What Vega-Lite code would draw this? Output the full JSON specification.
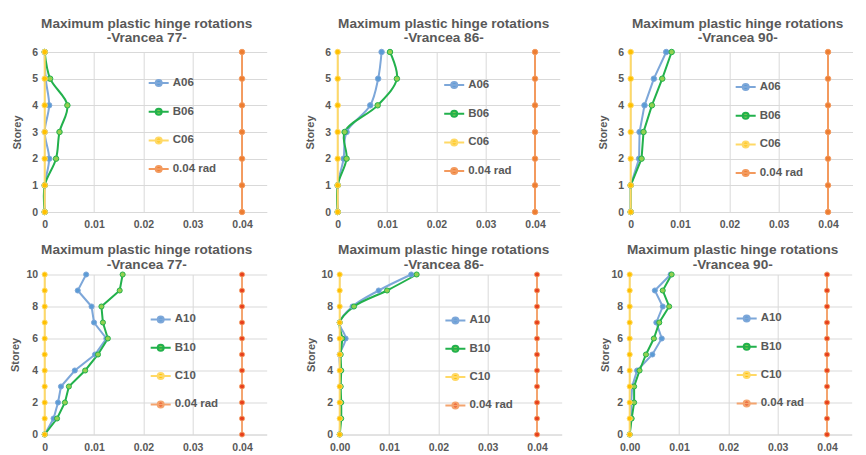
{
  "$schema": "https://vega.github.io/schema/vega-lite/v6.json",
  "padding": {"left": 9.7, "top": 17, "right": 0, "bottom": 0},
  "config": {
    "font": "Liberation Sans",
    "view": {"stroke": null},
    "axis": {"labelFontWeight": "bold", "labelColor": "#595959", "labelFontSize": 10.5, "titleFontSize": 11, "titleFontWeight": "bold", "titleColor": "#595959", "gridColor": "#D9D9D9", "ticks": false, "domain": false},
    "axisX": {"domain": true, "domainColor": "#D9D9D9", "labelPadding": 8, "labelFlush": false},
    "axisY": {"labelPadding": 7, "titleBaseline": "top"},
    "title": {"fontSize": 13.6, "fontWeight": "bold", "color": "#595959", "anchor": "middle", "offset": 2},
    "legend": {"labelFontSize": 11.5, "labelFontWeight": "bold", "labelColor": "#595959"}
  },
  "datasets": {
    "p1": [
      {"series":"A06","storey":0,"rotation":0},{"series":"A06","storey":1,"rotation":0},{"series":"A06","storey":2,"rotation":0.0009},{"series":"A06","storey":3,"rotation":0},{"series":"A06","storey":4,"rotation":0.0009},{"series":"A06","storey":5,"rotation":0.0002},{"series":"A06","storey":6,"rotation":0},
      {"series":"B06","storey":0,"rotation":0},{"series":"B06","storey":1,"rotation":0},{"series":"B06","storey":2,"rotation":0.0023},{"series":"B06","storey":3,"rotation":0.003},{"series":"B06","storey":4,"rotation":0.0046},{"series":"B06","storey":5,"rotation":0.0011},{"series":"B06","storey":6,"rotation":0},
      {"series":"C06","storey":0,"rotation":0},{"series":"C06","storey":1,"rotation":0},{"series":"C06","storey":2,"rotation":0},{"series":"C06","storey":3,"rotation":0},{"series":"C06","storey":4,"rotation":0},{"series":"C06","storey":5,"rotation":0},{"series":"C06","storey":6,"rotation":0},
      {"series":"0.04 rad","storey":0,"rotation":0.04},{"series":"0.04 rad","storey":1,"rotation":0.04},{"series":"0.04 rad","storey":2,"rotation":0.04},{"series":"0.04 rad","storey":3,"rotation":0.04},{"series":"0.04 rad","storey":4,"rotation":0.04},{"series":"0.04 rad","storey":5,"rotation":0.04},{"series":"0.04 rad","storey":6,"rotation":0.04}
    ],
    "p2": [
      {"series":"A06","storey":0,"rotation":0},{"series":"A06","storey":1,"rotation":0},{"series":"A06","storey":2,"rotation":0.0012},{"series":"A06","storey":3,"rotation":0.0018},{"series":"A06","storey":4,"rotation":0.0066},{"series":"A06","storey":5,"rotation":0.0082},{"series":"A06","storey":6,"rotation":0.0089},
      {"series":"B06","storey":0,"rotation":0},{"series":"B06","storey":1,"rotation":0},{"series":"B06","storey":2,"rotation":0.0018},{"series":"B06","storey":3,"rotation":0.0014},{"series":"B06","storey":4,"rotation":0.0081},{"series":"B06","storey":5,"rotation":0.012},{"series":"B06","storey":6,"rotation":0.0106},
      {"series":"C06","storey":0,"rotation":0},{"series":"C06","storey":1,"rotation":0},{"series":"C06","storey":2,"rotation":0},{"series":"C06","storey":3,"rotation":0},{"series":"C06","storey":4,"rotation":0},{"series":"C06","storey":5,"rotation":0},{"series":"C06","storey":6,"rotation":0},
      {"series":"0.04 rad","storey":0,"rotation":0.04},{"series":"0.04 rad","storey":1,"rotation":0.04},{"series":"0.04 rad","storey":2,"rotation":0.04},{"series":"0.04 rad","storey":3,"rotation":0.04},{"series":"0.04 rad","storey":4,"rotation":0.04},{"series":"0.04 rad","storey":5,"rotation":0.04},{"series":"0.04 rad","storey":6,"rotation":0.04}
    ],
    "p3": [
      {"series":"A06","storey":0,"rotation":0},{"series":"A06","storey":1,"rotation":0},{"series":"A06","storey":2,"rotation":0.0017},{"series":"A06","storey":3,"rotation":0.0018},{"series":"A06","storey":4,"rotation":0.0028},{"series":"A06","storey":5,"rotation":0.0047},{"series":"A06","storey":6,"rotation":0.0072},
      {"series":"B06","storey":0,"rotation":0},{"series":"B06","storey":1,"rotation":0},{"series":"B06","storey":2,"rotation":0.0022},{"series":"B06","storey":3,"rotation":0.0026},{"series":"B06","storey":4,"rotation":0.0043},{"series":"B06","storey":5,"rotation":0.0064},{"series":"B06","storey":6,"rotation":0.0083},
      {"series":"C06","storey":0,"rotation":0},{"series":"C06","storey":1,"rotation":0},{"series":"C06","storey":2,"rotation":0},{"series":"C06","storey":3,"rotation":0},{"series":"C06","storey":4,"rotation":0},{"series":"C06","storey":5,"rotation":0},{"series":"C06","storey":6,"rotation":0},
      {"series":"0.04 rad","storey":0,"rotation":0.04},{"series":"0.04 rad","storey":1,"rotation":0.04},{"series":"0.04 rad","storey":2,"rotation":0.04},{"series":"0.04 rad","storey":3,"rotation":0.04},{"series":"0.04 rad","storey":4,"rotation":0.04},{"series":"0.04 rad","storey":5,"rotation":0.04},{"series":"0.04 rad","storey":6,"rotation":0.04}
    ],
    "p4": [
      {"series":"A10","storey":0,"rotation":0},{"series":"A10","storey":1,"rotation":0.0018},{"series":"A10","storey":2,"rotation":0.0027},{"series":"A10","storey":3,"rotation":0.0033},{"series":"A10","storey":4,"rotation":0.0061},{"series":"A10","storey":5,"rotation":0.0102},{"series":"A10","storey":6,"rotation":0.0125},{"series":"A10","storey":7,"rotation":0.01},{"series":"A10","storey":8,"rotation":0.0095},{"series":"A10","storey":9,"rotation":0.0067},{"series":"A10","storey":10,"rotation":0.0084},
      {"series":"B10","storey":0,"rotation":0},{"series":"B10","storey":1,"rotation":0.0025},{"series":"B10","storey":2,"rotation":0.0041},{"series":"B10","storey":3,"rotation":0.0049},{"series":"B10","storey":4,"rotation":0.0082},{"series":"B10","storey":5,"rotation":0.0108},{"series":"B10","storey":6,"rotation":0.0128},{"series":"B10","storey":7,"rotation":0.0118},{"series":"B10","storey":8,"rotation":0.0115},{"series":"B10","storey":9,"rotation":0.0152},{"series":"B10","storey":10,"rotation":0.0158},
      {"series":"C10","storey":0,"rotation":0},{"series":"C10","storey":1,"rotation":0},{"series":"C10","storey":2,"rotation":0},{"series":"C10","storey":3,"rotation":0},{"series":"C10","storey":4,"rotation":0},{"series":"C10","storey":5,"rotation":0},{"series":"C10","storey":6,"rotation":0},{"series":"C10","storey":7,"rotation":0},{"series":"C10","storey":8,"rotation":0},{"series":"C10","storey":9,"rotation":0},{"series":"C10","storey":10,"rotation":0},
      {"series":"0.04 rad","storey":0,"rotation":0.04},{"series":"0.04 rad","storey":1,"rotation":0.04},{"series":"0.04 rad","storey":2,"rotation":0.04},{"series":"0.04 rad","storey":3,"rotation":0.04},{"series":"0.04 rad","storey":4,"rotation":0.04},{"series":"0.04 rad","storey":5,"rotation":0.04},{"series":"0.04 rad","storey":6,"rotation":0.04},{"series":"0.04 rad","storey":7,"rotation":0.04},{"series":"0.04 rad","storey":8,"rotation":0.04},{"series":"0.04 rad","storey":9,"rotation":0.04},{"series":"0.04 rad","storey":10,"rotation":0.04}
    ],
    "p5": [
      {"series":"A10","storey":0,"rotation":0},{"series":"A10","storey":1,"rotation":0.0001},{"series":"A10","storey":2,"rotation":0.0001},{"series":"A10","storey":3,"rotation":0.0001},{"series":"A10","storey":4,"rotation":0.0001},{"series":"A10","storey":5,"rotation":0},{"series":"A10","storey":6,"rotation":0.0012},{"series":"A10","storey":7,"rotation":0},{"series":"A10","storey":8,"rotation":0.0026},{"series":"A10","storey":9,"rotation":0.0079},{"series":"A10","storey":10,"rotation":0.0145},
      {"series":"B10","storey":0,"rotation":0},{"series":"B10","storey":1,"rotation":0.0003},{"series":"B10","storey":2,"rotation":0.0003},{"series":"B10","storey":3,"rotation":0.0002},{"series":"B10","storey":4,"rotation":0.0003},{"series":"B10","storey":5,"rotation":0.0002},{"series":"B10","storey":6,"rotation":0.0005},{"series":"B10","storey":7,"rotation":0},{"series":"B10","storey":8,"rotation":0.0029},{"series":"B10","storey":9,"rotation":0.0096},{"series":"B10","storey":10,"rotation":0.0156},
      {"series":"C10","storey":0,"rotation":0},{"series":"C10","storey":1,"rotation":0},{"series":"C10","storey":2,"rotation":0},{"series":"C10","storey":3,"rotation":0},{"series":"C10","storey":4,"rotation":0},{"series":"C10","storey":5,"rotation":0},{"series":"C10","storey":6,"rotation":0},{"series":"C10","storey":7,"rotation":0},{"series":"C10","storey":8,"rotation":0},{"series":"C10","storey":9,"rotation":0},{"series":"C10","storey":10,"rotation":0},
      {"series":"0.04 rad","storey":0,"rotation":0.04},{"series":"0.04 rad","storey":1,"rotation":0.04},{"series":"0.04 rad","storey":2,"rotation":0.04},{"series":"0.04 rad","storey":3,"rotation":0.04},{"series":"0.04 rad","storey":4,"rotation":0.04},{"series":"0.04 rad","storey":5,"rotation":0.04},{"series":"0.04 rad","storey":6,"rotation":0.04},{"series":"0.04 rad","storey":7,"rotation":0.04},{"series":"0.04 rad","storey":8,"rotation":0.04},{"series":"0.04 rad","storey":9,"rotation":0.04},{"series":"0.04 rad","storey":10,"rotation":0.04}
    ],
    "p6": [
      {"series":"A10","storey":0,"rotation":0},{"series":"A10","storey":1,"rotation":0.0003},{"series":"A10","storey":2,"rotation":0.0003},{"series":"A10","storey":3,"rotation":0.0005},{"series":"A10","storey":4,"rotation":0.0015},{"series":"A10","storey":5,"rotation":0.0046},{"series":"A10","storey":6,"rotation":0.0065},{"series":"A10","storey":7,"rotation":0.0054},{"series":"A10","storey":8,"rotation":0.0067},{"series":"A10","storey":9,"rotation":0.0051},{"series":"A10","storey":10,"rotation":0.0083},
      {"series":"B10","storey":0,"rotation":0},{"series":"B10","storey":1,"rotation":0.0004},{"series":"B10","storey":2,"rotation":0.0009},{"series":"B10","storey":3,"rotation":0.0009},{"series":"B10","storey":4,"rotation":0.002},{"series":"B10","storey":5,"rotation":0.0033},{"series":"B10","storey":6,"rotation":0.0049},{"series":"B10","storey":7,"rotation":0.006},{"series":"B10","storey":8,"rotation":0.008},{"series":"B10","storey":9,"rotation":0.0067},{"series":"B10","storey":10,"rotation":0.0085},
      {"series":"C10","storey":0,"rotation":0},{"series":"C10","storey":1,"rotation":0},{"series":"C10","storey":2,"rotation":0},{"series":"C10","storey":3,"rotation":0},{"series":"C10","storey":4,"rotation":0},{"series":"C10","storey":5,"rotation":0},{"series":"C10","storey":6,"rotation":0},{"series":"C10","storey":7,"rotation":0},{"series":"C10","storey":8,"rotation":0},{"series":"C10","storey":9,"rotation":0},{"series":"C10","storey":10,"rotation":0},
      {"series":"0.04 rad","storey":0,"rotation":0.04},{"series":"0.04 rad","storey":1,"rotation":0.04},{"series":"0.04 rad","storey":2,"rotation":0.04},{"series":"0.04 rad","storey":3,"rotation":0.04},{"series":"0.04 rad","storey":4,"rotation":0.04},{"series":"0.04 rad","storey":5,"rotation":0.04},{"series":"0.04 rad","storey":6,"rotation":0.04},{"series":"0.04 rad","storey":7,"rotation":0.04},{"series":"0.04 rad","storey":8,"rotation":0.04},{"series":"0.04 rad","storey":9,"rotation":0.04},{"series":"0.04 rad","storey":10,"rotation":0.04}
    ]
  },
  "resolve": {"scale": {"x": "independent", "y": "independent", "stroke": "independent", "fill": "independent"}, "legend": {"stroke": "independent", "fill": "independent"}},
  "columns": 3,
  "align": "none",
  "spacing": {"row": 11.5, "column": 38},
  "concat": [
    {
      "width": 222, "height": 160, "data": {"name": "p1"},
      "title": {"text": ["Maximum plastic hinge rotations", "-Vrancea 77-"], "dx": -9, "lineHeight": 14.3},
      "encoding": {
        "x": {"field": "rotation", "type": "quantitative", "scale": {"domain": [0, 0.045], "nice": false, "zero": false}, "axis": {"values": [0, 0.01, 0.02, 0.03, 0.04], "labelExpr": "datum.value == 0 ? '0' : format(datum.value, '.2f')", "title": null}},
        "y": {"field": "storey", "type": "quantitative", "scale": {"domain": [0, 6], "nice": false}, "axis": {"values": [0, 1, 2, 3, 4, 5, 6], "title": "Storey", "titleX": -33}},
        "order": {"field": "storey", "type": "quantitative"}
      },
      "layer": [
        {"mark": {"type": "line", "strokeWidth": 2, "interpolate": "catmull-rom"},
         "encoding": {"stroke": {"field": "series", "type": "nominal", "scale": {"domain": ["A06", "B06", "C06", "0.04 rad"], "range": ["#7DA7D9", "#22B14C", "#FFD966", "#F39A5E"]}, "legend": {"title": null, "orient": "none", "legendX": 103, "legendY": 20, "symbolType": "M-1,0H1M-0.3,0A0.3,0.3,0,1,1,0.3,0A0.3,0.3,0,1,1,-0.3,0Z", "symbolSize": 400, "symbolStrokeWidth": 2, "rowPadding": 10.7, "labelOffset": 3}}}},
        {"mark": {"type": "point", "filled": true, "size": 30, "strokeWidth": 1, "opacity": 1},
         "encoding": {"fill": {"field": "series", "type": "nominal", "scale": {"domain": ["A06", "B06", "C06", "0.04 rad"], "range": ["#5B9BD5", "#92D050", "#FFC000", "#ED7D31"]}, "legend": {"title": null, "orient": "none", "legendX": 103, "legendY": 20, "symbolType": "M-1,0H1M-0.3,0A0.3,0.3,0,1,1,0.3,0A0.3,0.3,0,1,1,-0.3,0Z", "symbolSize": 400, "symbolStrokeWidth": 2, "rowPadding": 10.7, "labelOffset": 3}},
                      "stroke": {"field": "series", "type": "nominal"}}}
      ]
    },
    {
      "width": 222, "height": 160, "data": {"name": "p2"},
      "title": {"text": ["Maximum plastic hinge rotations", "-Vrancea 86-"], "dx": -5, "lineHeight": 14.3},
      "encoding": {
        "x": {"field": "rotation", "type": "quantitative", "scale": {"domain": [0, 0.045], "nice": false, "zero": false}, "axis": {"values": [0, 0.01, 0.02, 0.03, 0.04], "labelExpr": "datum.value == 0 ? '0' : format(datum.value, '.2f')", "title": null}},
        "y": {"field": "storey", "type": "quantitative", "scale": {"domain": [0, 6], "nice": false}, "axis": {"values": [0, 1, 2, 3, 4, 5, 6], "title": "Storey", "titleX": -33}},
        "order": {"field": "storey", "type": "quantitative"}
      },
      "layer": [
        {"mark": {"type": "line", "strokeWidth": 2, "interpolate": "catmull-rom"},
         "encoding": {"stroke": {"field": "series", "type": "nominal", "scale": {"domain": ["A06", "B06", "C06", "0.04 rad"], "range": ["#7DA7D9", "#22B14C", "#FFD966", "#F39A5E"]}, "legend": {"title": null, "orient": "none", "legendX": 105.5, "legendY": 22, "symbolType": "M-1,0H1M-0.3,0A0.3,0.3,0,1,1,0.3,0A0.3,0.3,0,1,1,-0.3,0Z", "symbolSize": 400, "symbolStrokeWidth": 2, "rowPadding": 10.7, "labelOffset": 3}}}},
        {"mark": {"type": "point", "filled": true, "size": 30, "strokeWidth": 1, "opacity": 1},
         "encoding": {"fill": {"field": "series", "type": "nominal", "scale": {"domain": ["A06", "B06", "C06", "0.04 rad"], "range": ["#5B9BD5", "#92D050", "#FFC000", "#ED7D31"]}, "legend": {"title": null, "orient": "none", "legendX": 105.5, "legendY": 22, "symbolType": "M-1,0H1M-0.3,0A0.3,0.3,0,1,1,0.3,0A0.3,0.3,0,1,1,-0.3,0Z", "symbolSize": 400, "symbolStrokeWidth": 2, "rowPadding": 10.7, "labelOffset": 3}},
                      "stroke": {"field": "series", "type": "nominal"}}}
      ]
    },
    {
      "width": 222, "height": 160, "data": {"name": "p3"},
      "title": {"text": ["Maximum plastic hinge rotations", "-Vrancea 90-"], "dx": -4, "lineHeight": 14.3},
      "encoding": {
        "x": {"field": "rotation", "type": "quantitative", "scale": {"domain": [0, 0.045], "nice": false, "zero": false}, "axis": {"values": [0, 0.01, 0.02, 0.03, 0.04], "labelExpr": "datum.value == 0 ? '0' : format(datum.value, '.2f')", "title": null}},
        "y": {"field": "storey", "type": "quantitative", "scale": {"domain": [0, 6], "nice": false}, "axis": {"values": [0, 1, 2, 3, 4, 5, 6], "title": "Storey", "titleX": -33}},
        "order": {"field": "storey", "type": "quantitative"}
      },
      "layer": [
        {"mark": {"type": "line", "strokeWidth": 2},
         "encoding": {"stroke": {"field": "series", "type": "nominal", "scale": {"domain": ["A06", "B06", "C06", "0.04 rad"], "range": ["#7DA7D9", "#22B14C", "#FFD966", "#F39A5E"]}, "legend": {"title": null, "orient": "none", "legendX": 104, "legendY": 24, "symbolType": "M-1,0H1M-0.3,0A0.3,0.3,0,1,1,0.3,0A0.3,0.3,0,1,1,-0.3,0Z", "symbolSize": 400, "symbolStrokeWidth": 2, "rowPadding": 10.7, "labelOffset": 3}}}},
        {"mark": {"type": "point", "filled": true, "size": 30, "strokeWidth": 1, "opacity": 1},
         "encoding": {"fill": {"field": "series", "type": "nominal", "scale": {"domain": ["A06", "B06", "C06", "0.04 rad"], "range": ["#5B9BD5", "#92D050", "#FFC000", "#ED7D31"]}, "legend": {"title": null, "orient": "none", "legendX": 104, "legendY": 24, "symbolType": "M-1,0H1M-0.3,0A0.3,0.3,0,1,1,0.3,0A0.3,0.3,0,1,1,-0.3,0Z", "symbolSize": 400, "symbolStrokeWidth": 2, "rowPadding": 10.7, "labelOffset": 3}},
                      "stroke": {"field": "series", "type": "nominal"}}}
      ]
    },
    {
      "width": 222, "height": 160, "data": {"name": "p4"},
      "title": {"text": ["Maximum plastic hinge rotations", "-Vrancea 77-"], "dx": -9, "lineHeight": 15.7, "offset": -2.5},
      "encoding": {
        "x": {"field": "rotation", "type": "quantitative", "scale": {"domain": [0, 0.045], "nice": false, "zero": false}, "axis": {"values": [0, 0.01, 0.02, 0.03, 0.04], "labelExpr": "datum.value == 0 ? '0' : format(datum.value, '.2f')", "title": null}},
        "y": {"field": "storey", "type": "quantitative", "scale": {"domain": [0, 10], "nice": false}, "axis": {"values": [0, 2, 4, 6, 8, 10], "title": "Storey", "titleX": -35}},
        "order": {"field": "storey", "type": "quantitative"}
      },
      "layer": [
        {"mark": {"type": "line", "strokeWidth": 2},
         "encoding": {"stroke": {"field": "series", "type": "nominal", "scale": {"domain": ["A10", "B10", "C10", "0.04 rad"], "range": ["#7DA7D9", "#22B14C", "#FFD966", "#F4A46E"]}, "legend": {"title": null, "orient": "none", "legendX": 105, "legendY": 34, "symbolType": "M-1,0H1M-0.3,0A0.3,0.3,0,1,1,0.3,0A0.3,0.3,0,1,1,-0.3,0Z", "symbolSize": 400, "symbolStrokeWidth": 2, "rowPadding": 10.3, "labelOffset": 3}}}},
        {"mark": {"type": "point", "filled": true, "size": 26, "strokeWidth": 1, "opacity": 1},
         "encoding": {"fill": {"field": "series", "type": "nominal", "scale": {"domain": ["A10", "B10", "C10", "0.04 rad"], "range": ["#5B9BD5", "#92D050", "#FFC000", "#E8401C"]}, "legend": {"title": null, "orient": "none", "legendX": 105, "legendY": 34, "symbolType": "M-1,0H1M-0.3,0A0.3,0.3,0,1,1,0.3,0A0.3,0.3,0,1,1,-0.3,0Z", "symbolSize": 400, "symbolStrokeWidth": 2, "rowPadding": 10.3, "labelOffset": 3}},
                      "stroke": {"field": "series", "type": "nominal"}}}
      ]
    },
    {
      "width": 222, "height": 160, "data": {"name": "p5"},
      "title": {"text": ["Maximum plastic hinge rotations", "-Vrancea 86-"], "dx": -7, "lineHeight": 15.7, "offset": -2.5},
      "encoding": {
        "x": {"field": "rotation", "type": "quantitative", "scale": {"domain": [0, 0.045], "nice": false, "zero": false}, "axis": {"values": [0, 0.01, 0.02, 0.03, 0.04], "format": ".2f", "title": null}},
        "y": {"field": "storey", "type": "quantitative", "scale": {"domain": [0, 10], "nice": false}, "axis": {"values": [0, 2, 4, 6, 8, 10], "title": "Storey", "titleX": -34.6}},
        "order": {"field": "storey", "type": "quantitative"}
      },
      "layer": [
        {"mark": {"type": "line", "strokeWidth": 2, "interpolate": "catmull-rom"},
         "encoding": {"stroke": {"field": "series", "type": "nominal", "scale": {"domain": ["A10", "B10", "C10", "0.04 rad"], "range": ["#7DA7D9", "#22B14C", "#FFD966", "#F4A46E"]}, "legend": {"title": null, "orient": "none", "legendX": 104.7, "legendY": 35, "symbolType": "M-1,0H1M-0.3,0A0.3,0.3,0,1,1,0.3,0A0.3,0.3,0,1,1,-0.3,0Z", "symbolSize": 400, "symbolStrokeWidth": 2, "rowPadding": 10.3, "labelOffset": 3}}}},
        {"mark": {"type": "point", "filled": true, "size": 26, "strokeWidth": 1, "opacity": 1},
         "encoding": {"fill": {"field": "series", "type": "nominal", "scale": {"domain": ["A10", "B10", "C10", "0.04 rad"], "range": ["#5B9BD5", "#92D050", "#FFC000", "#E8401C"]}, "legend": {"title": null, "orient": "none", "legendX": 104.7, "legendY": 35, "symbolType": "M-1,0H1M-0.3,0A0.3,0.3,0,1,1,0.3,0A0.3,0.3,0,1,1,-0.3,0Z", "symbolSize": 400, "symbolStrokeWidth": 2, "rowPadding": 10.3, "labelOffset": 3}},
                      "stroke": {"field": "series", "type": "nominal"}}}
      ]
    },
    {
      "width": 222, "height": 160, "data": {"name": "p6"},
      "title": {"text": ["Maximum plastic hinge rotations", "-Vrancea 90-"], "dx": -8, "lineHeight": 15.7, "offset": -2.5},
      "encoding": {
        "x": {"field": "rotation", "type": "quantitative", "scale": {"domain": [0, 0.045], "nice": false, "zero": false}, "axis": {"values": [0, 0.01, 0.02, 0.03, 0.04], "format": ".2f", "title": null}},
        "y": {"field": "storey", "type": "quantitative", "scale": {"domain": [0, 10], "nice": false}, "axis": {"values": [0, 2, 4, 6, 8, 10], "title": "Storey", "titleX": -30}},
        "order": {"field": "storey", "type": "quantitative"}
      },
      "layer": [
        {"mark": {"type": "line", "strokeWidth": 2},
         "encoding": {"stroke": {"field": "series", "type": "nominal", "scale": {"domain": ["A10", "B10", "C10", "0.04 rad"], "range": ["#7DA7D9", "#22B14C", "#FFD966", "#F4A46E"]}, "legend": {"title": null, "orient": "none", "legendX": 106, "legendY": 33, "symbolType": "M-1,0H1M-0.3,0A0.3,0.3,0,1,1,0.3,0A0.3,0.3,0,1,1,-0.3,0Z", "symbolSize": 400, "symbolStrokeWidth": 2, "rowPadding": 10.3, "labelOffset": 3}}}},
        {"mark": {"type": "point", "filled": true, "size": 26, "strokeWidth": 1, "opacity": 1},
         "encoding": {"fill": {"field": "series", "type": "nominal", "scale": {"domain": ["A10", "B10", "C10", "0.04 rad"], "range": ["#5B9BD5", "#92D050", "#FFC000", "#E8401C"]}, "legend": {"title": null, "orient": "none", "legendX": 106, "legendY": 33, "symbolType": "M-1,0H1M-0.3,0A0.3,0.3,0,1,1,0.3,0A0.3,0.3,0,1,1,-0.3,0Z", "symbolSize": 400, "symbolStrokeWidth": 2, "rowPadding": 10.3, "labelOffset": 3}},
                      "stroke": {"field": "series", "type": "nominal"}}}
      ]
    }
  ]
}
